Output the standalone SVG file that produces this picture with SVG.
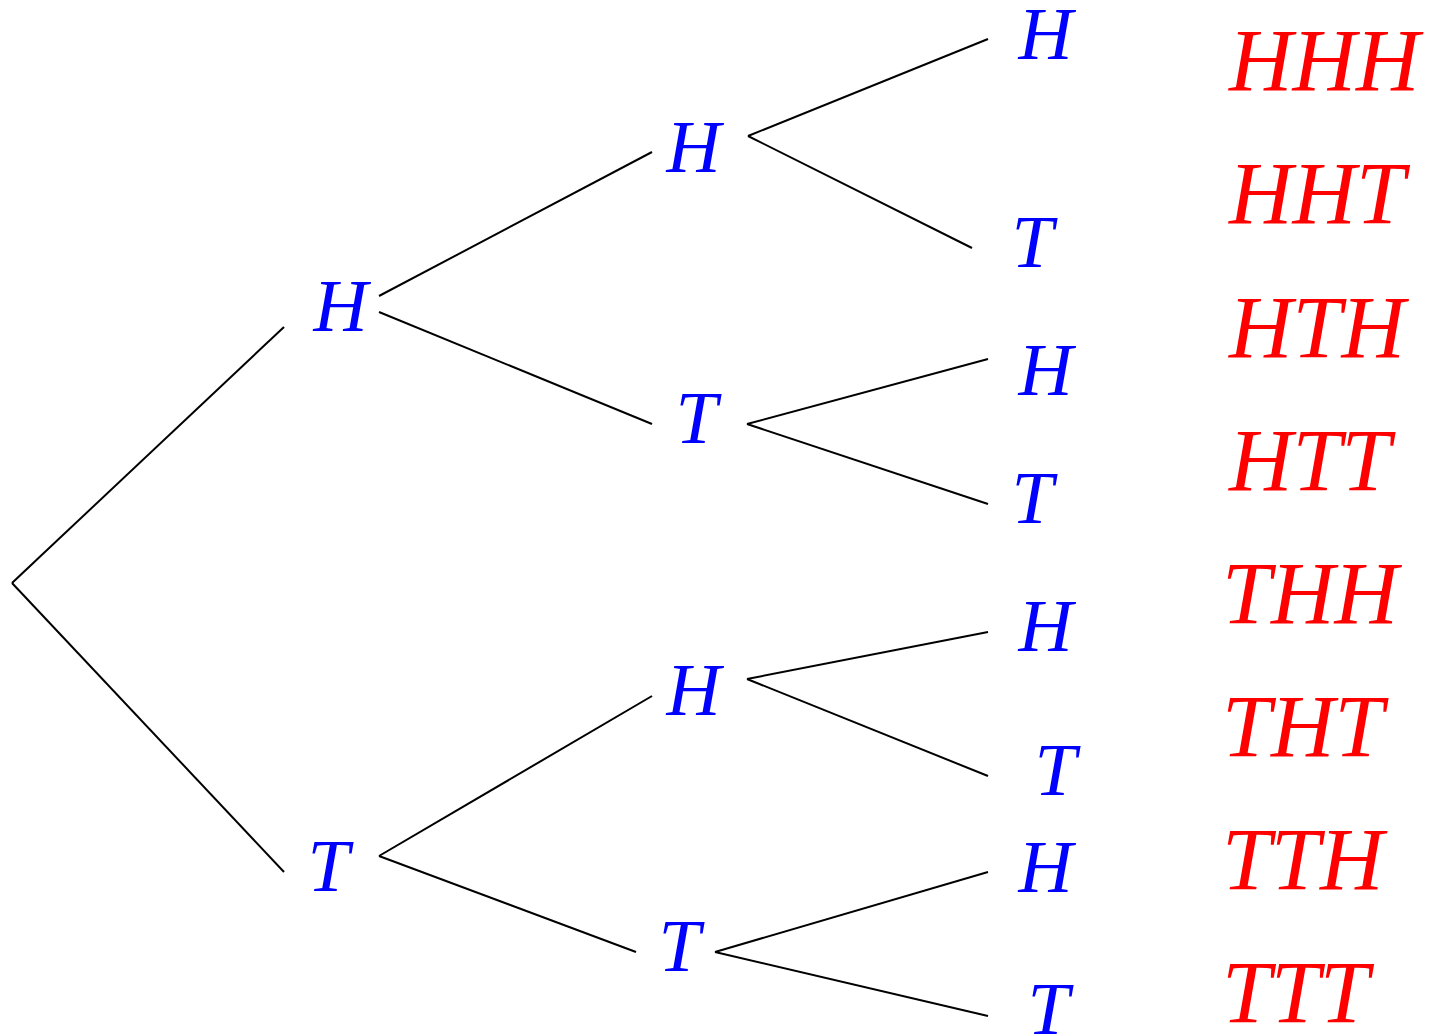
<svg xmlns="http://www.w3.org/2000/svg" width="1433" height="1036" viewBox="0 0 1433 1036">
<style>
.e{stroke:#000;stroke-width:2;fill:none;stroke-linecap:butt}
.n{font-family:"Liberation Serif","Times New Roman",serif;font-style:italic;font-size:75px;fill:#0000ff}
.o{font-family:"Liberation Serif","Times New Roman",serif;font-style:italic;font-size:88px;fill:#ff0000}
</style>
<rect width="1433" height="1036" fill="#fff"/>
<g id="connectors">
<line class="e" x1="12" y1="583" x2="284" y2="327"/>
<line class="e" x1="12" y1="583" x2="284" y2="872"/>
<line class="e" x1="379" y1="296" x2="652" y2="152"/>
<line class="e" x1="379" y1="312" x2="652" y2="424"/>
<line class="e" x1="379" y1="856" x2="652" y2="696"/>
<line class="e" x1="379" y1="856" x2="636" y2="952"/>
<line class="e" x1="748" y1="136" x2="988" y2="39"/>
<line class="e" x1="748" y1="136" x2="972" y2="248"/>
<line class="e" x1="747" y1="424" x2="988" y2="359"/>
<line class="e" x1="747" y1="424" x2="988" y2="504"/>
<line class="e" x1="747" y1="679" x2="988" y2="632"/>
<line class="e" x1="747" y1="679" x2="988" y2="776"/>
<line class="e" x1="715" y1="952" x2="988" y2="872"/>
<line class="e" x1="715" y1="952" x2="988" y2="1016"/>
</g>
<g id="n-H"><text class="n" x="313.6" y="331">H</text></g>
<g id="n-T"><text class="n" x="307.6" y="891">T</text></g>
<g id="n-HH"><text class="n" x="666.6" y="172">H</text></g>
<g id="n-HT"><text class="n" x="675.6" y="443">T</text></g>
<g id="n-TH"><text class="n" x="666.6" y="715">H</text></g>
<g id="n-TT"><text class="n" x="658.6" y="971">T</text></g>
<g id="n-HHH"><text class="n" x="1018.6" y="59">H</text></g>
<g id="n-HHT"><text class="n" x="1011.6" y="267">T</text></g>
<g id="n-HTH"><text class="n" x="1018.6" y="395">H</text></g>
<g id="n-HTT"><text class="n" x="1011.6" y="523">T</text></g>
<g id="n-THH"><text class="n" x="1018.6" y="651">H</text></g>
<g id="n-THT"><text class="n" x="1034.6" y="795">T</text></g>
<g id="n-TTH"><text class="n" x="1018.6" y="892">H</text></g>
<g id="n-TTT"><text class="n" x="1027.6" y="1034">T</text></g>
<g id="outcomes">
<text class="o" x="1229" y="90">HHH</text>
<text class="o" x="1229" y="223">HHT</text>
<text class="o" x="1229" y="357">HTH</text>
<text class="o" x="1229" y="490">HTT</text>
<text class="o" x="1222" y="623">THH</text>
<text class="o" x="1222" y="756">THT</text>
<text class="o" x="1222" y="889">TTH</text>
<text class="o" x="1222" y="1022">TTT</text>
</g>
</svg>
